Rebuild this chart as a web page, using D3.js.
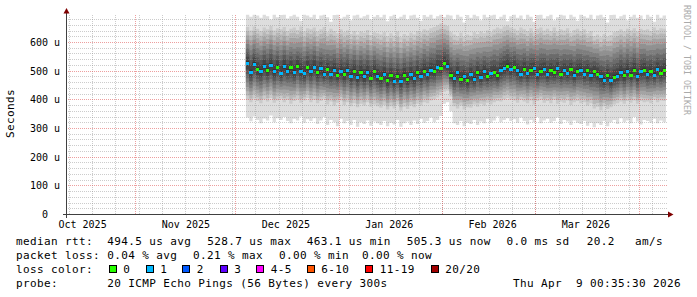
<!DOCTYPE html>
<html>
<head>
<meta charset="utf-8">
<script src="https://cdn.jsdelivr.net/npm/d3@7"></script>
<style>
  body { margin: 0; background: #fff; }
  svg { display: block; }
  text { font-family: "DejaVu Sans Mono", monospace; white-space: pre; }
</style>
</head>
<body>
<svg id="chart" width="697" height="297"></svg>
<script>
// ============================
// Data (values in microseconds, one entry per day from Dec 4 2025)
// ============================
const firstDay = new Date(2025, 11, 4);
const tStart = new Date(2025, 9, 11, 0, 35, 30);
const tEnd = new Date(2026, 3, 9, 0, 35, 30);
const yMax = 697.7;

const median = [
  528, 496, 524, 506, 498, 516, 502,
  520, 498, 514, 492, 516, 500, 512,
  496, 516, 500, 492, 512, 498, 514, 494,
  508, 490, 506, 488, 504, 486, 500, 488, 502,
  482, 498, 478, 496, 480, 494, 476, 498, 482,
  474, 488, 466, 484, 464, 480, 463, 486, 470, 488,
  474, 494, 482, 500, 488, 504, 498,
  514, 510, 527, 518,
  486, 474, 494, 470, 480, 466, 488, 472, 494, 478, 498, 482, 492,
  496, 484, 504, 510, 518, 506, 514,
  502, 490, 506, 492, 502, 508, 488, 500, 506, 490, 504, 494, 508, 490, 502, 492, 506, 486, 500, 504, 490, 502, 484, 498, 488,
  480, 468, 484, 466, 478,
  482, 496, 484, 500, 486, 502, 482, 498, 504, 488, 500, 486, 506, 492, 502, 505
];

// lost pings (out of 20) per day
const lossPings = [
  1,1,1,0,1,1,0,1,1,0,1,1,1,0,1,0,1,1,0,1,
  1,0,1,1,0,1,1,0,1,0,1,1,0,1,0,1,1,0,0,1,
  0,1,0,0,1,0,1,0,0,1,1,0,1,0,1,1,0,1,0,0,
  1,0,1,1,0,1,0,1,1,0,1,1,0,1,0,0,1,1,0,1,
  0,1,1,0,1,0,1,1,0,1,1,0,0,1,0,1,1,0,1,0,
  1,1,0,1,0,0,1,1,0,1,0,1,1,0,1,0,0,1,1,0,
  1,0,1,1,0,0,1
];

// fastest ping (rank 1 of 20)
const pingMin = [
  338, 325, 342, 330, 318, 335, 328, 345, 322, 336, 330, 340, 326, 318, 334, 328, 342, 320, 332, 326,
  336, 316, 328, 340, 312, 330, 322, 308, 334, 318, 326, 312, 330, 306, 322, 316, 328, 310, 324, 318,
  312, 326, 308, 320, 314, 330, 306, 318, 324, 312, 328, 316, 334, 320, 326, 338, 322, 330, 344, 386,
  392, 360, 318, 312, 326, 308, 320, 316, 330, 312, 324, 318, 334, 320, 328, 342, 322, 330, 336, 326,
  332, 320, 338, 326, 314, 330, 322, 340, 318, 328, 334, 320, 326, 338, 316, 330, 324, 312, 328, 320,
  316, 326, 310, 320, 304, 318, 312, 326, 308, 322, 330, 316, 336, 322, 328, 318, 340, 324, 314, 330,
  326, 320, 334, 318, 328, 322, 330
];

// second fastest ping (rank 2 of 20)
const pingLow = [
  400, 392, 405, 396, 388, 402, 394, 406, 390, 398, 404, 392, 400, 386, 396, 402, 390, 398, 406, 392,
  400, 388, 396, 404, 384, 394, 380, 390, 398, 382, 392, 378, 388, 374, 386, 380, 392, 376, 384, 378,
  372, 382, 366, 378, 370, 384, 362, 376, 368, 380, 374, 386, 380, 392, 388, 398, 402, 408, 416, 428,
  432, 412, 378, 370, 380, 366, 374, 372, 384, 376, 386, 380, 390, 384, 392, 396, 394, 402, 406, 400,
  398, 390, 400, 394, 388, 398, 384, 396, 400, 390, 396, 388, 400, 386, 394, 390, 398, 382, 392, 396,
  388, 392, 380, 388, 370, 376, 364, 378, 368, 374, 384, 388, 394, 386, 396, 390, 398, 386, 396, 392,
  394, 388, 400, 392, 398, 396, 402
];

// second slowest ping (rank 19 of 20)
const pingHigh = [
  654, 642, 656, 648, 640, 652, 646, 658, 642, 650, 646, 654, 640, 648, 652, 644, 656, 638, 650, 646,
  652, 638, 646, 654, 636, 648, 640, 632, 646, 636, 642, 630, 640, 628, 638, 634, 644, 626, 636, 632,
  628, 636, 622, 632, 624, 638, 618, 630, 624, 634, 628, 640, 636, 646, 642, 650, 654, 660, 666, 662,
  658, 636, 628, 622, 634, 620, 628, 624, 636, 630, 638, 632, 642, 636, 646, 652, 648, 656, 660, 652,
  648, 642, 652, 646, 640, 650, 636, 648, 652, 642, 648, 640, 652, 638, 646, 642, 650, 634, 644, 648,
  640, 646, 632, 640, 622, 628, 618, 630, 620, 626, 636, 640, 646, 638, 648, 642, 650, 638, 648, 644,
  646, 640, 652, 644, 650, 648, 654
];

// slowest ping (rank 20 of 20)
const pingMax = [
  698, 690, 698, 694, 686, 698, 692, 680, 698, 688, 696, 698, 684, 692, 698, 690, 676, 698, 694, 688,
  698, 682, 694, 698, 688, 672, 696, 698, 684, 690, 698, 678, 694, 698, 686, 692, 698, 680, 690, 696,
  688, 698, 674, 692, 698, 684, 690, 698, 680, 694, 698, 686, 676, 696, 690, 698, 684, 692, 698, 688,
  698, 694, 680, 698, 690, 670, 696, 686, 698, 692, 678, 698, 688, 694, 698, 682, 690, 698, 674, 692,
  698, 686, 694, 680, 698, 690, 672, 696, 698, 684, 692, 698, 678, 688, 698, 694, 682, 698, 690, 676,
  698, 692, 686, 698, 680, 694, 698, 688, 670, 696, 698, 684, 692, 698, 678, 690, 698, 686, 694, 680,
  698, 690, 672, 698, 686, 694, 698
];

const yTicks = [0, 100, 200, 300, 400, 500, 600];
const yTickLabels = ["0  ", "100 u", "200 u", "300 u", "400 u", "500 u", "600 u"];
const monthLabels = ["Oct 2025", "Nov 2025", "Dec 2025", "Jan 2026", "Feb 2026", "Mar 2026"];

const lossLabels = ["0", "1", "2", "3", "4-5", "6-10", "11-19", "20/20"];
const lossColors = ["#26ff00", "#00b8ff", "#0059ff", "#5e00ff", "#ff00ff", "#ff5500", "#ff0000", "#a10000"];
const lossThresholds = [1, 2, 3, 4, 6, 11, 20];

const legendRtt = ["median rtt:", "494.5 us avg", "528.7 us max", "463.1 us min", "505.3 us now", "0.0 ms sd", "20.2", "am/s"];
const legendLoss = ["packet loss:", "0.04 % avg", "0.21 % max", "0.00 % min", "0.00 % now"];
const probeText = ["probe:", "20 ICMP Echo Pings (56 Bytes) every 300s"];
const stampText = "Thu Apr  9 00:35:30 2026";

// ============================
// Scales
// ============================
const svg = d3.select("#chart");
const x = d3.scaleTime().domain([tStart, tEnd]).range([66, 666]);
const y = d3.scaleLinear().domain([0, yMax]).range([214.5, 14.5]);
const lossColor = d3.scaleThreshold().domain(lossThresholds).range(lossColors);

svg.append("defs").append("clipPath").attr("id", "plot")
  .append("rect").attr("x", 66).attr("y", 14.5).attr("width", 600).attr("height", 200);

// ============================
// Smoke
// ============================
const days = median.map((m, i) => {
  const q = d3.scaleLinear()
    .domain([1, 2, 10.5, 19, 20])
    .range([pingMin[i], pingLow[i], m, pingHigh[i], pingMax[i]]);
  return { date: d3.timeDay.offset(firstDay, i), q: q, med: m, loss: lossPings[i] };
});
const stepped = days.concat([{ ...days[days.length - 1], date: d3.timeDay.offset(firstDay, days.length) }]);

const smoke = svg.append("g").attr("clip-path", "url(#plot)");
for (let k = 1; k <= 10; k++) {
  const shade = Math.floor(190 / 10 * (10 - k)) + 50;
  const area = d3.area()
    .curve(d3.curveStepAfter)
    .x(d => x(d.date))
    .y0(d => y(Math.min(d.q(k), yMax)))
    .y1(d => y(Math.min(d.q(21 - k), yMax)));
  smoke.append("path")
    .datum(stepped)
    .attr("d", area)
    .attr("fill", d3.rgb(shade, shade, shade));
}

// ============================
// Grid
// ============================
const grid = svg.append("g").attr("shape-rendering", "crispEdges");
const minorY = d3.range(20, 700, 20).filter(v => v % 100 !== 0);
grid.selectAll(".hmin").data(minorY).join("line")
  .attr("x1", 66).attr("x2", 667)
  .attr("y1", d => y(d)).attr("y2", d => y(d))
  .attr("stroke", "#8f8f8f").attr("stroke-opacity", 0.45).attr("stroke-dasharray", "1,1");

const sundays = d3.timeSunday.range(tStart, tEnd);
grid.selectAll(".vmin").data(sundays).join("line")
  .attr("x1", d => Math.floor(x(d)) + 0.5).attr("x2", d => Math.floor(x(d)) + 0.5)
  .attr("y1", 14.5).attr("y2", 214.5)
  .attr("stroke", "#8f8f8f").attr("stroke-opacity", 0.45).attr("stroke-dasharray", "1,1");

grid.selectAll(".hmaj").data(yTicks.slice(1)).join("line")
  .attr("x1", 66).attr("x2", 667)
  .attr("y1", d => y(d)).attr("y2", d => y(d))
  .attr("stroke", "#de5050").attr("stroke-opacity", 0.55).attr("stroke-dasharray", "1,1");

const months = d3.timeMonth.range(tStart, tEnd);
grid.selectAll(".vmaj").data(months).join("line")
  .attr("x1", d => Math.floor(x(d)) + 0.5).attr("x2", d => Math.floor(x(d)) + 0.5)
  .attr("y1", 14.5).attr("y2", 214.5)
  .attr("stroke", "#de5050").attr("stroke-opacity", 0.55).attr("stroke-dasharray", "1,1");

// ============================
// Median, coloured by loss
// ============================
svg.append("g").attr("clip-path", "url(#plot)").attr("shape-rendering", "crispEdges")
  .selectAll("rect").data(days).join("rect")
  .attr("x", d => x(d.date))
  .attr("width", d => x(d3.timeDay.offset(d.date, 1)) - x(d.date))
  .attr("y", d => y(d.med) - 1.5)
  .attr("height", 3)
  .attr("fill", d => lossColor(d.loss));

// ============================
// Axes
// ============================
const axes = svg.append("g").attr("shape-rendering", "crispEdges");
axes.append("line").attr("x1", 66.5).attr("x2", 66.5).attr("y1", 218).attr("y2", 12)
  .attr("stroke", "#404040");
axes.append("line").attr("x1", 63).attr("x2", 669).attr("y1", 214.5).attr("y2", 214.5)
  .attr("stroke", "#404040");
svg.append("path").attr("d", "M63.5,13.5L69.5,13.5L66.5,8Z").attr("fill", "#7f0000");
svg.append("path").attr("d", "M668,211.5L668,217.5L673.5,214.5Z").attr("fill", "#7f0000");

svg.append("g").selectAll("text").data(yTicks).join("text")
  .attr("x", 60).attr("y", d => y(d) + 3.5)
  .attr("text-anchor", "end")
  .attr("font-size", 10)
  .attr("fill", "#000")
  .text((d, i) => yTickLabels[i]);

svg.append("g").selectAll("text").data(months.map(m => d3.timeDay.offset(d3.timeMonth.offset(m, -1), 15)))
  .join("text")
  .attr("x", d => x(d)).attr("y", 228)
  .attr("text-anchor", "middle")
  .attr("font-size", 10)
  .attr("fill", "#000")
  .text((d, i) => monthLabels[i]);

svg.append("text")
  .attr("transform", "translate(14,113.5) rotate(-90)")
  .attr("text-anchor", "middle")
  .attr("font-size", 11).attr("letter-spacing", 0.38)
  .text("Seconds");

svg.append("text")
  .attr("transform", "translate(684,60) rotate(90)")
  .attr("text-anchor", "middle")
  .attr("font-size", 8.3)
  .attr("fill", "#aaaaaa")
  .text("RRDTOOL / TOBI OETIKER");

// ============================
// Legend
// ============================
const legend = svg.append("g").attr("font-size", 11).attr("letter-spacing", 0.38).attr("fill", "#000");
const rttX = [16, 107.3, 207.3, 306.8, 406.7, 506.5, 586.7, 635];
legend.selectAll(".rtt").data(legendRtt).join("text")
  .attr("x", (d, i) => rttX[i]).attr("y", 245).text(d => d);

const lossX = [16, 107.3, 193, 279, 362];
legend.selectAll(".loss").data(legendLoss).join("text")
  .attr("x", (d, i) => lossX[i]).attr("y", 259).text(d => d);

legend.append("text").attr("x", 16).attr("y", 273).text("loss color:");
const boxX = [108.7, 145.7, 182.3, 219.7, 256.3, 306.7, 365.3, 430.7];
legend.selectAll(".box").data(lossColors).join("rect")
  .attr("x", (d, i) => Math.round(boxX[i]) + 0.5).attr("y", 265.5)
  .attr("width", 7).attr("height", 7)
  .attr("fill", d => d).attr("stroke", "#000");
legend.selectAll(".boxlab").data(lossLabels).join("text")
  .attr("x", (d, i) => boxX[i] + 14.5).attr("y", 273).text(d => d);

legend.selectAll(".probe").data(probeText).join("text")
  .attr("x", (d, i) => [16, 107.3][i]).attr("y", 287).text(d => d);
legend.append("text").attr("x", 513).attr("y", 287).text(stampText);
</script>
</body>
</html>
